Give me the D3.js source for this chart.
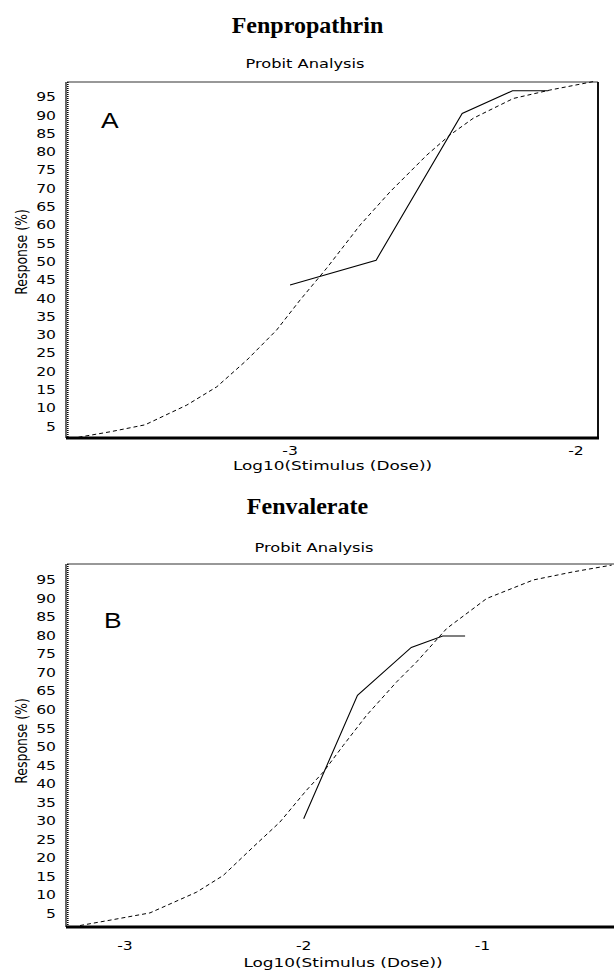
<!DOCTYPE html>
<html>
<head>
<meta charset="utf-8">
<script src="https://cdn.jsdelivr.net/npm/d3@7"></script>
<style>
body { margin: 0; background: #fff; }
svg { display: block; }
text { font-family: "DejaVu Sans", Verdana, sans-serif; fill: #000; }
.title { font-family: "Liberation Serif", "Times New Roman", serif; font-weight: bold; }
.letter { font-family: "Liberation Sans", Arial, sans-serif; }
</style>
</head>
<body>
<svg width="614" height="971"></svg>
<script>

// Fenpropathrin: observed points (log10 dose, % response)
var obsDoseA = [-3.0, -2.699, -2.398, -2.222, -2.097];
var obsRespA = [43.6, 50.4, 90.5, 96.7, 96.7];
// Fenpropathrin: fitted probit line
var fitDoseA = [-3.740, -3.629, -3.507, -3.361, -3.256, -3.151, -3.047, -2.965, -2.872,
                -2.755, -2.650, -2.522, -2.441, -2.359, -2.219, -2.091, -1.940];
var fitRespA = [2.0, 3.5, 5.4, 10.8, 15.8, 23.1, 31.3, 39.5, 48.2,
                60.0, 69.1, 79.1, 84.6, 89.2, 94.6, 96.9, 99.2];

// Fenvalerate
var obsDoseB = [-2.0, -1.699, -1.398, -1.222, -1.097];
var obsRespB = [30.6, 63.9, 76.8, 79.9, 79.9];
var fitDoseB = [-3.251, -3.065, -2.860, -2.599, -2.450, -2.282, -2.133, -1.984, -1.890, -1.778,
                -1.648, -1.480, -1.368, -1.200, -0.976, -0.715, -0.491, -0.277];
var fitRespB = [1.8, 3.4, 5.2, 10.8, 15.3, 23.0, 29.7, 38.3, 43.2, 50.4,
                58.5, 67.5, 72.9, 81.9, 90.0, 95.0, 97.2, 99.0];

var yTicks = [5, 10, 15, 20, 25, 30, 35, 40, 45, 50, 55, 60, 65, 70, 75, 80, 85, 90, 95];
var xTicksA = [-3, -2];
var xTicksB = [-3, -2, -1];

var svg = d3.select("svg");
var stretch = 1.3; // the chart pictures are widened horizontally

function wideText(g, x, y, str, size, anchor) {
  return g.append("text")
      .attr("transform", "translate(" + x + "," + y + ") scale(" + stretch + ",1)")
      .attr("text-anchor", anchor)
      .attr("dominant-baseline", "central")
      .style("font-size", size + "px")
      .text(str);
}

function drawPanel(p) {
  var g = svg.append("g");

  var x = d3.scaleLinear().domain(p.xDomain).range([p.left, p.right]);
  var y = d3.scaleLinear().domain(p.yDomain).range([p.bottom, p.top]);

  g.append("text")
      .attr("class", "title")
      .attr("x", 307.5)
      .attr("y", p.titleY)
      .attr("text-anchor", "middle")
      .style("font-size", "24px")
      .text(p.title);

  wideText(g, p.subX, p.subY, "Probit Analysis", 12.5, "middle");

  // frame
  g.append("line").attr("x1", p.left).attr("x2", p.right).attr("y1", p.top).attr("y2", p.top)
      .attr("stroke", "#333").attr("stroke-width", 1.2);
  g.append("line").attr("x1", p.right).attr("x2", p.right).attr("y1", p.top).attr("y2", p.bottom)
      .attr("stroke", "#111").attr("stroke-width", 2);
  g.append("line").attr("x1", p.left - 1).attr("x2", p.right + 1).attr("y1", p.bottom).attr("y2", p.bottom)
      .attr("stroke", "#000").attr("stroke-width", 3);
  g.append("line").attr("x1", p.left - 1).attr("x2", p.left - 1).attr("y1", p.top).attr("y2", p.bottom)
      .attr("stroke", "#000").attr("stroke-width", 1.2);
  g.append("line").attr("x1", p.left + 0.8).attr("x2", p.left + 0.8).attr("y1", p.top).attr("y2", p.bottom)
      .attr("stroke", "#000").attr("stroke-width", 1.6).attr("stroke-dasharray", "1,1");

  // y tick labels
  yTicks.forEach(function(t) {
    wideText(g, 56, y(t), t, 12, "end");
  });
  // x tick labels
  p.xTicks.forEach(function(t) {
    wideText(g, x(t), p.xTickY, "" + t, 12, "middle");
  });

  wideText(g, (p.left + p.right) / 2, p.xLabelY, "Log10(Stimulus (Dose))", 13, "middle");

  g.append("text")
      .attr("transform", "translate(21.5," + p.yLabelY + ") rotate(-90) scale(1," + stretch + ")")
      .attr("text-anchor", "middle")
      .attr("dominant-baseline", "central")
      .style("font-size", "12.5px")
      .text("Response (%)");

  g.append("text")
      .attr("class", "letter")
      .attr("transform", "translate(" + p.letterX + "," + p.letterY + ") scale(1.2,1)")
      .style("font-size", "22px")
      .text(p.letter);

  var line = d3.line()
      .x(function(d) { return x(d[0]); })
      .y(function(d) { return y(d[1]); });

  g.append("path")
      .datum(d3.zip(p.fitDose, p.fitResp))
      .attr("fill", "none")
      .attr("stroke", "#000")
      .attr("stroke-width", 1)
      .attr("stroke-dasharray", "4,3")
      .attr("d", line);

  g.append("path")
      .datum(d3.zip(p.obsDose, p.obsResp))
      .attr("fill", "none")
      .attr("stroke", "#000")
      .attr("stroke-width", 1.1)
      .attr("d", line);
}

drawPanel({
  title: "Fenpropathrin", titleY: 33, subX: 305, subY: 64, letter: "A", letterX: 101, letterY: 128,
  left: 67, right: 598, top: 82, bottom: 438,
  xDomain: [-3.780, -1.923], yDomain: [1.8, 99.1],
  xTicks: xTicksA, xTickY: 451, xLabelY: 466, yLabelY: 252,
  obsDose: obsDoseA, obsResp: obsRespA, fitDose: fitDoseA, fitResp: fitRespA
});

drawPanel({
  title: "Fenvalerate", titleY: 514, subX: 314, subY: 548, letter: "B", letterX: 104, letterY: 628,
  left: 67, right: 619, top: 564, bottom: 927,
  xDomain: [-3.324, -0.236], yDomain: [1.4, 99.3],
  xTicks: xTicksB, xTickY: 946, xLabelY: 963, yLabelY: 741,
  obsDose: obsDoseB, obsResp: obsRespB, fitDose: fitDoseB, fitResp: fitRespB
});

</script>
</body>
</html>
